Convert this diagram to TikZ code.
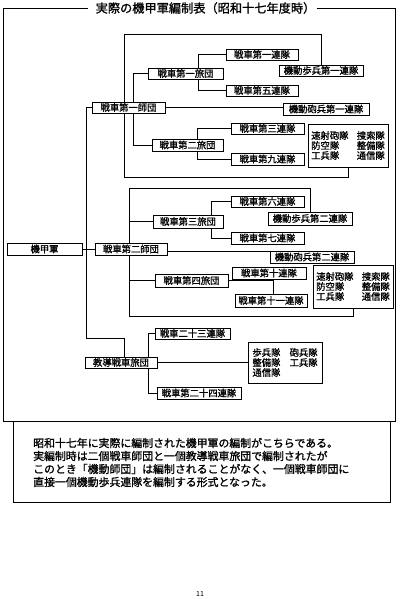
\documentclass[tikz,border=0pt]{standalone}
\usepackage{fontspec}
\setmainfont{Noto Sans CJK JP}[FakeBold=1.2]
\newfontfamily\pagefont{Noto Sans CJK JP}
\usetikzlibrary{shadows,backgrounds}
\tikzset{
  unit/.style={draw, fill=white, line width=0.7pt, inner sep=0pt,
    font=\fontsize{9.3}{10}\selectfont,
    drop shadow={shadow xshift=0.6pt, shadow yshift=-0.6pt, fill=black!55, opacity=1}},
  sz/.style 2 args={minimum width=#1pt, minimum height=#2pt},
  link/.style={line width=0.7pt},
  frameline/.style={line width=0.9pt},
}
\newcommand{\colA}[2]{\makebox[4.9em][l]{#1}#2}
\newcommand{\colB}[2]{\makebox[4em][l]{#1}#2}
\begin{document}
\begin{tikzpicture}[x=1pt,y=-1pt]
\useasboundingbox (0,0) rectangle (400,599);

% frame and title
\node[inner sep=0pt, font=\fontsize{12.2}{14}\selectfont] (title) at (205.5,8) {実際の機甲軍編制表（昭和十七年度時）};
\draw[frameline] (88,8) -- (3,8) -- (3,421) -- (395,421) -- (395,8) -- (317,8);

% units
\node[unit, sz={75}{12}] (kou) at (44.5,249) {機甲軍};
\node[unit, sz={73}{11}] (d1) at (128.5,107.5) {戦車第一師団};
\node[unit, sz={72}{12}] (d2) at (131,249) {戦車第二師団};
\node[unit, sz={72}{11}] (kd) at (121,362.5) {教導戦車旅団};

\node[unit, sz={75}{11}] (b1) at (185.5,73.5) {戦車第一旅団};
\node[unit, sz={71}{12}] (b2) at (187.5,145) {戦車第二旅団};
\node[unit, sz={70}{13}] (b3) at (188,221.5) {戦車第三旅団};
\node[unit, sz={73}{13}] (b4) at (191.5,280.5) {戦車第四旅団};

\node[unit, sz={72}{11}] (r1) at (262,54.5) {戦車第一連隊};
\node[unit, sz={72}{11}] (r5) at (262,90.5) {戦車第五連隊};
\node[unit, sz={84}{11}] (i1) at (321,70.5) {機動歩兵第一連隊};
\node[unit, sz={86}{12}] (a1) at (326,109) {機動砲兵第一連隊};
\node[unit, sz={73}{11}] (r3) at (267.5,128.5) {戦車第三連隊};
\node[unit, sz={73}{12}] (r9) at (267.5,159) {戦車第九連隊};
\node[unit, sz={80}{43}, align=left] (s1) at (348,145.5) {\colA{速射砲隊}{捜索隊}\\\colA{防空隊}{整備隊}\\\colA{工兵隊}{通信隊}};

\node[unit, sz={73}{11}] (r6) at (267.5,201.5) {戦車第六連隊};
\node[unit, sz={84}{13}] (i2) at (310,218.5) {機動歩兵第二連隊};
\node[unit, sz={73}{12}] (r7) at (267.5,238) {戦車第七連隊};
\node[unit, sz={84}{12}] (a2) at (312,257) {機動砲兵第二連隊};
\node[unit, sz={74}{12}] (r10) at (269,273) {戦車第十連隊};
\node[unit, sz={72}{13}] (r11) at (271,300.5) {戦車第十一連隊};
\node[unit, sz={80}{43}, align=left] (s2) at (353,286.5) {\colA{速射砲隊}{捜索隊}\\\colA{防空隊}{整備隊}\\\colA{工兵隊}{通信隊}};

\node[unit, sz={75}{11}] (r23) at (192.5,333.5) {戦車二十三連隊};
\node[unit, sz={84}{12}] (r24) at (199,393) {戦車第二十四連隊};
\node[unit, sz={74}{41}, align=left] (s3) at (285,362.5) {\colB{歩兵隊}{砲兵隊}\\\colB{整備隊}{工兵隊}\\通信隊};

% connectors
\begin{scope}[on background layer, link]
  % army trunk
  \draw (d1.west |- 0,107) -- (86,107) -- (86,338) -- (124,338) -- (124,0 |- kd.north);
  \draw (kou.east) -- (d2.west);
  % division 1
  \draw (i1.north) -- (i1.north |- 0,34) -- (124,34) -- (124,177) -- (s1.south |- 0,177) -- (s1.south);
  \draw (b1.west) -- (133,73.5) -- (133,145) -- (b2.west);
  \draw (d1.east) -- (d1.east -| a1.west);
  \draw (r1.west) -- (198,54.5) -- (198,90.5) -- (r5.west);
  \draw (r3.west) -- (197,128.5) -- (197,159) -- (r9.west);
  % division 2
  \draw (i2.north) -- (i2.north |- 0,188) -- (129,188) -- (129,316) -- (s2.south |- 0,316) -- (s2.south);
  \draw (129,221.5) -- (b3.west);
  \draw (129,280.5) -- (b4.west);
  \draw (d2.east |- 0,251) -- (a2.west |- 0,251);
  \draw (r6.west) -- (211,201.5) -- (211,238) -- (r7.west);
  \draw (b4.east) -- (273,280.5);
  \draw (273,0 |- r10.south) -- (273,0 |- r11.north);
  % training brigade
  \draw (r23.west) -- (148,333.5) -- (148,393) -- (r24.west);
  \draw (kd.east) -- (s3.west);
\end{scope}

% note box
\draw[frameline] (13,421) rectangle (390,502);
\node[anchor=west, inner sep=0pt, align=left, font=\fontsize{10.9}{13}\selectfont] (note) at (33,462.5)
  {昭和十七年に実際に編制された機甲軍の編制がこちらである。\\実編制時は二個戦車師団と一個教導戦車旅団で編制されたが\\このとき「機動師団」は編制されることがなく、一個戦車師団に\\直接一個機動歩兵連隊を編制する形式となった。};

\node[inner sep=0pt, font=\pagefont\fontsize{7}{8}\selectfont] (page) at (200,594) {11};
\end{tikzpicture}
\end{document}
